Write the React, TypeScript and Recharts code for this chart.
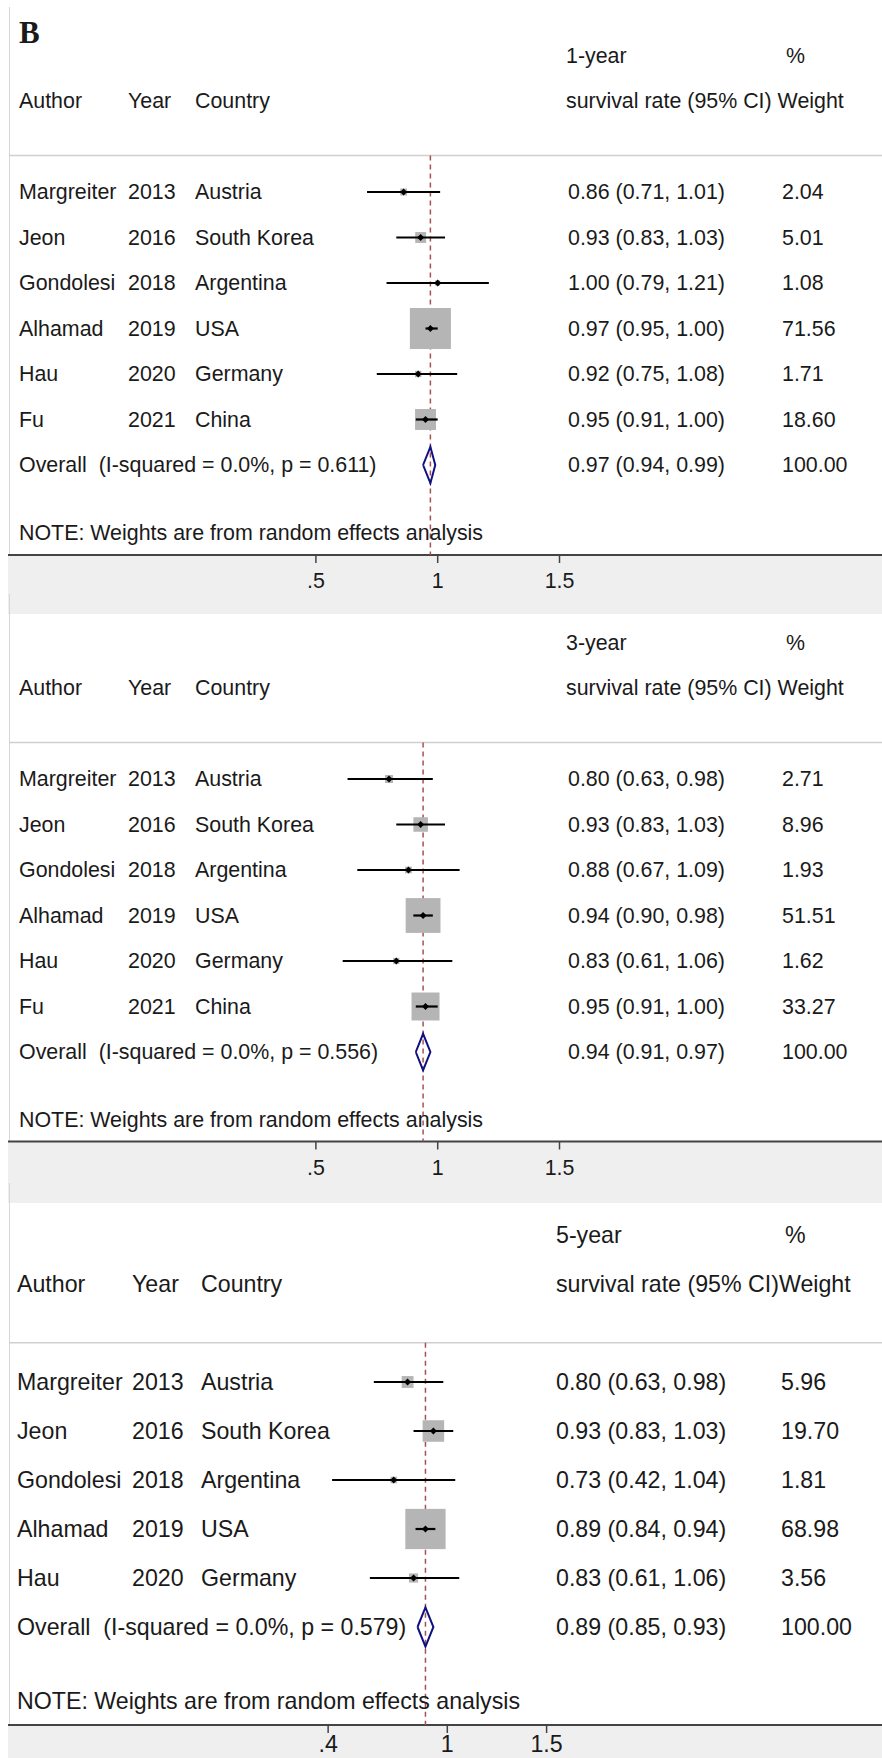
import React from "react";
import { ComposedChart, Scatter, XAxis, YAxis } from "recharts";

// studies (panel 3 has no Fu row)
const authors = ["Margreiter", "Jeon", "Gondolesi", "Alhamad", "Hau", "Fu"];
const years = [2013, 2016, 2018, 2019, 2020, 2021];
const countries = ["Austria", "South Korea", "Argentina", "USA", "Germany", "China"];

// 1-year
const est1 = [0.86, 0.93, 1.0, 0.97, 0.92, 0.95];
const lo1 = [0.71, 0.83, 0.79, 0.95, 0.75, 0.91];
const hi1 = [1.01, 1.03, 1.21, 1.0, 1.08, 1.0];
const weight1 = [2.04, 5.01, 1.08, 71.56, 1.71, 18.6];
const overall1 = [0.97, 0.94, 0.99];
const p1 = "0.611";

// 3-year
const est3y = [0.8, 0.93, 0.88, 0.94, 0.83, 0.95];
const lo3y = [0.63, 0.83, 0.67, 0.9, 0.61, 0.91];
const hi3y = [0.98, 1.03, 1.09, 0.98, 1.06, 1.0];
const weight3y = [2.71, 8.96, 1.93, 51.51, 1.62, 33.27];
const overall3y = [0.94, 0.91, 0.97];
const p3y = "0.556";

// 5-year
const est5y = [0.8, 0.93, 0.73, 0.89, 0.83];
const lo5y = [0.63, 0.83, 0.42, 0.84, 0.61];
const hi5y = [0.98, 1.03, 1.04, 0.94, 1.06];
const weight5y = [5.96, 19.7, 1.81, 68.98, 3.56];
const overall5y = [0.89, 0.85, 0.93];
const p5y = "0.579";

const ticksA = [0.5, 1, 1.5];
const ticksB = [0.4, 1, 1.5];

const FONT = "'Liberation Sans', Arial, sans-serif";
const INK = "#1a1a1a";
const W = 882;
const BOX_K = 4.85;

const layout1 = {
	top: 0, rowY0: 192, step: 45.5, axisY: 555, bottom: 594,
	zeroPx: 194.1, unitPx: 243.6, font: 21.4, tickMargin: 10,
	col: { author: 19, year: 128, country: 195, ci: 568, weight: 782, head: 566, pct: 786 },
};
const layout2 = { ...layout1, top: 594, rowY0: 779, axisY: 1141.5, bottom: 1183 };
const layout3 = {
	top: 1183, rowY0: 1382, step: 49, axisY: 1725, bottom: 1758,
	zeroPx: 248.7, unitPx: 198.6, font: 23.2, tickMargin: 3,
	col: { author: 17, year: 132, country: 201, ci: 556, weight: 781, head: 556, pct: 785 },
};

const fmtTick = (v: number) => String(v).replace(/^0\./, ".");
const ci = (e: number, l: number, h: number) =>
	`${e.toFixed(2)} (${l.toFixed(2)}, ${h.toFixed(2)})`;

const Nothing = () => <g />;

const T = ({ x, y, size, children, family, bold }: any) => (
	<text
		x={x}
		y={y}
		fontSize={size}
		fontFamily={family || FONT}
		fontWeight={bold ? "bold" : "normal"}
		fill={INK}
		dominantBaseline='central'
		style={{ whiteSpace: "pre" }}>
		{children}
	</text>
);

const ForestPanel = ({ L, est, lo, hi, weights, overall, p, title, head2, xTicks, showB }: any) => {
	const n = est.length;
	const left = 8;
	const xMin = (left - L.zeroPx) / L.unitPx;
	const xMax = (W - L.zeroPx) / L.unitPx;
	const yTop = 1 - (L.rowY0 - L.top) / L.step;
	const yBottom = 1 + (L.axisY - L.rowY0) / L.step;
	const oRow = n + 1;
	const noteRow = n + 2.5;

	const boxes = est.map((e: number, i: number) => ({ x: e, y: i + 1, w: weights[i] }));
	const diamond = [
		{ x: overall[1], y: oRow },
		{ x: overall[0], y: oRow - 0.4 },
		{ x: overall[2], y: oRow },
		{ x: overall[0], y: oRow + 0.4 },
		{ x: overall[1], y: oRow },
	];
	const dashed = [
		{ x: overall[0], y: 0.2 },
		{ x: overall[0], y: yBottom },
	];
	const headLine = [
		{ x: xMin + 1 / L.unitPx, y: 0.2 },
		{ x: xMax, y: 0.2 },
	];

	const yTicks = [...(showB ? [-2.5] : []), -2, -1, ...est.map((_: number, i: number) => i + 1), oRow, noteRow];
	const c = L.col;
	const fs = L.font;

	const rowText = (props: any) => {
		const v = props.payload.value;
		const y = props.y;
		if (v === -2.5)
			return <T x={19} y={y} size={31} family="'Liberation Serif', 'Times New Roman', serif" bold>B</T>;
		if (v === -2)
			return (
				<g>
					<T x={c.head} y={y} size={fs}>{title}</T>
					<T x={c.pct} y={y} size={fs}>%</T>
				</g>
			);
		if (v === -1)
			return (
				<g>
					<T x={c.author} y={y} size={fs}>Author</T>
					<T x={c.year} y={y} size={fs}>Year</T>
					<T x={c.country} y={y} size={fs}>Country</T>
					<T x={c.head} y={y} size={fs}>{head2}</T>
				</g>
			);
		if (v === oRow)
			return (
				<g>
					<T x={c.author} y={y} size={fs}>{`Overall  (I-squared = 0.0%, p = ${p})`}</T>
					<T x={c.ci} y={y} size={fs}>{ci(overall[0], overall[1], overall[2])}</T>
					<T x={c.weight} y={y} size={fs}>100.00</T>
				</g>
			);
		if (v === noteRow)
			return <T x={c.author} y={y} size={fs}>NOTE: Weights are from random effects analysis</T>;
		const i = v - 1;
		return (
			<g>
				<T x={c.author} y={y} size={fs}>{authors[i]}</T>
				<T x={c.year} y={y} size={fs}>{years[i]}</T>
				<T x={c.country} y={y} size={fs}>{countries[i]}</T>
				<T x={c.ci} y={y} size={fs}>{ci(est[i], lo[i], hi[i])}</T>
				<T x={c.weight} y={y} size={fs}>{weights[i].toFixed(2)}</T>
			</g>
		);
	};

	const boxShape = (props: any) => {
		const s = BOX_K * Math.sqrt(props.payload.w);
		return <rect x={props.cx - s / 2} y={props.cy - s / 2} width={s} height={s} fill='#b5b5b5' />;
	};
	const pointShape = (props: any) => {
		const { cx, cy } = props;
		const r = 3.5;
		return <polygon points={`${cx - r},${cy} ${cx},${cy - r} ${cx + r},${cy} ${cx},${cy + r}`} fill='#000' />;
	};

	return (
		<div style={{ position: "absolute", left: 0, top: L.top, width: W, height: L.bottom - L.top }}>
			<div
				style={{
					position: "absolute",
					left: 9,
					top: showB ? 7 : 0,
					width: 1,
					height: L.axisY - L.top - (showB ? 7 : 0),
					background: "#d6d6d6",
				}}
			/>
			<div
				style={{
					position: "absolute",
					left: 8,
					top: L.axisY - L.top,
					width: W - 8,
					height: L.bottom - L.axisY + 20,
					background: "#efefef",
				}}
			/>
			<div style={{ position: "absolute", left: 0, top: 0 }}>
				<ComposedChart
					width={W}
					height={L.bottom - L.top}
					margin={{ top: 0, right: 0, bottom: 0, left: left - 1 }}>
					<XAxis
						type='number'
						dataKey='x'
						domain={[xMin, xMax]}
						allowDataOverflow
						ticks={xTicks}
						interval={0}
						tickFormatter={fmtTick}
						height={L.bottom - L.axisY}
						axisLine={{ stroke: "#444", strokeWidth: 2 }}
						tickLine={{ stroke: "#444", strokeWidth: 1.5 }}
						tickSize={8}
						tickMargin={L.tickMargin}
						tick={{ fill: INK, fontSize: fs, fontFamily: FONT }}
					/>
					<YAxis
						type='number'
						dataKey='y'
						domain={[yTop, yBottom]}
						reversed
						allowDataOverflow
						ticks={yTicks}
						interval={0}
						width={1}
						axisLine={false}
						tickLine={false}
						tick={rowText}
					/>
					<Scatter
						data={headLine}
						shape={Nothing}
						line={{ stroke: "#cfcfcf", strokeWidth: 1.5 }}
						isAnimationActive={false}
					/>
					<Scatter
						data={dashed}
						shape={Nothing}
						line={{ stroke: "#a8504f", strokeWidth: 1.5, strokeDasharray: "5 4" }}
						isAnimationActive={false}
					/>
					<Scatter
						data={boxes}
						shape={boxShape}
						isAnimationActive={false}
					/>
					{est.map((_: number, i: number) => (
						<Scatter
							key={i}
							data={[
								{ x: lo[i], y: i + 1 },
								{ x: hi[i], y: i + 1 },
							]}
							shape={Nothing}
							line={{ stroke: "#000", strokeWidth: 2.2 }}
							isAnimationActive={false}
						/>
					))}
					<Scatter
						data={boxes}
						shape={pointShape}
						isAnimationActive={false}
					/>
					<Scatter
						data={diamond}
						shape={Nothing}
						line={{ stroke: "#101080", strokeWidth: 2 }}
						isAnimationActive={false}
					/>
				</ComposedChart>
			</div>
		</div>
	);
};

const App = () => {
	return (
		<div
			style={{
				position: "absolute",
				left: 0,
				top: 0,
				width: W,
				height: 1758,
				overflow: "hidden",
				background: "#fff",
			}}>
			<ForestPanel
				L={layout1}
				est={est1}
				lo={lo1}
				hi={hi1}
				weights={weight1}
				overall={overall1}
				p={p1}
				title='1-year'
				head2='survival rate (95% CI) Weight'
				xTicks={ticksA}
				showB
			/>
			<ForestPanel
				L={layout2}
				est={est3y}
				lo={lo3y}
				hi={hi3y}
				weights={weight3y}
				overall={overall3y}
				p={p3y}
				title='3-year'
				head2='survival rate (95% CI) Weight'
				xTicks={ticksA}
			/>
			<ForestPanel
				L={layout3}
				est={est5y}
				lo={lo5y}
				hi={hi5y}
				weights={weight5y}
				overall={overall5y}
				p={p5y}
				title='5-year'
				head2='survival rate (95% CI)Weight'
				xTicks={ticksB}
			/>
		</div>
	);
};

export default App;
